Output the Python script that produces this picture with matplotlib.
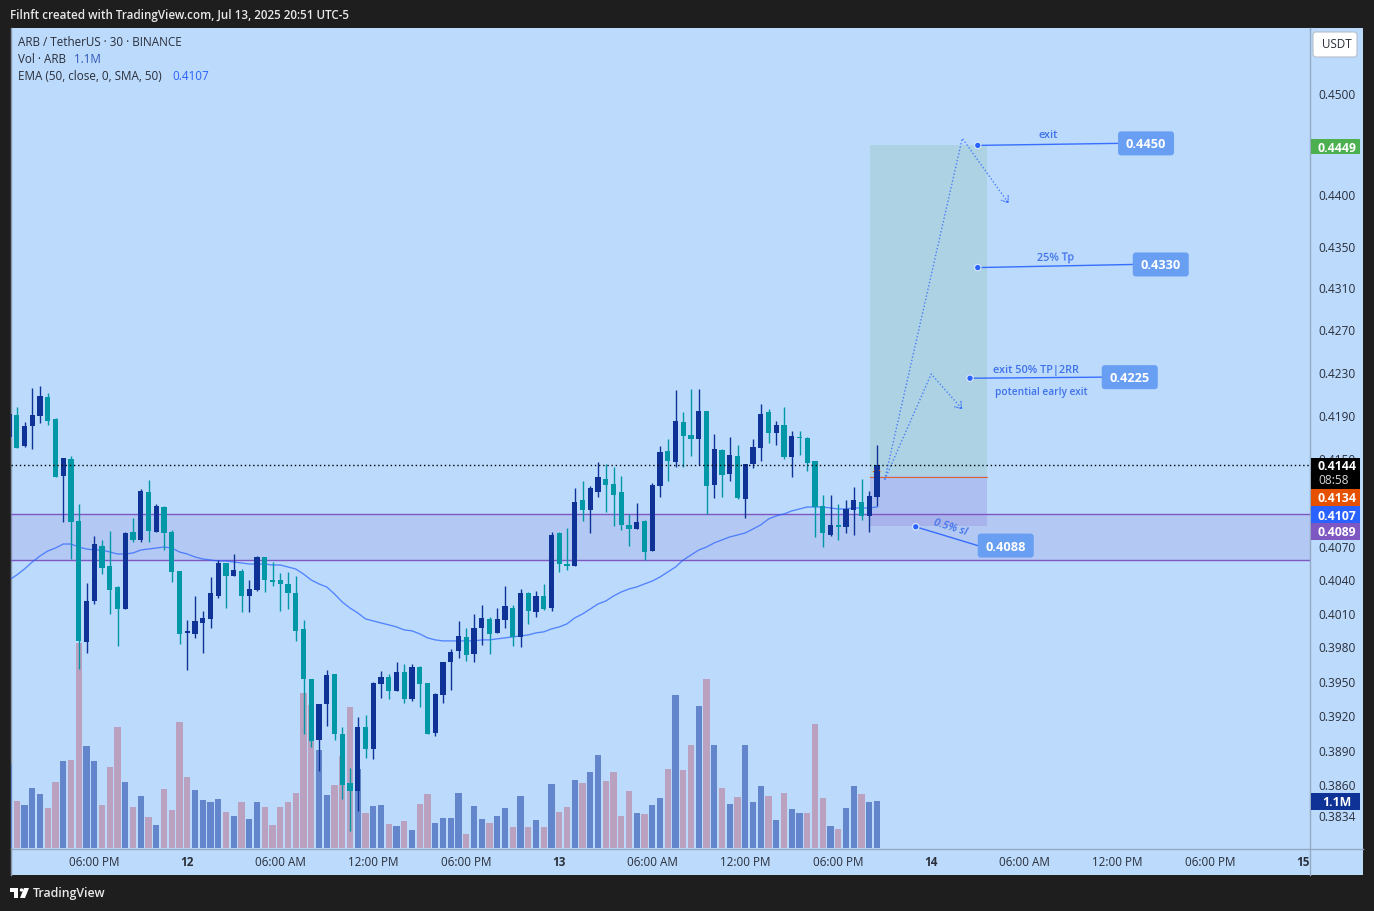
import matplotlib
matplotlib.use("Agg")
import matplotlib.pyplot as plt
from matplotlib.patches import Rectangle, FancyBboxPatch, Circle, Polygon
from matplotlib.ticker import FixedLocator, FixedFormatter, NullLocator

plt.rcParams["font.family"] = "Open Sans"

opens = [.4170,.4191,.4162,.4180,.4190,.4207,.4187,.4134,.4150,.4093,.3985,.4021,.4071,.4053,.4034,.4014,.4083,.4076,.4120,.4083,
         .4106,.4083,.4048,.3993,.3992,.4002,.4005,.4026,.4055,.4044,.4048,.4026,.4031,.4061,.4040,.4040,.4036,.4028,.3996,.3952,
         .3899,.3930,.3957,.3904,.3862,.3855,.3910,.3891,.3948,.3954,.3942,.3958,.3935,.3963,.3949,.3905,.3938,.3967,.3977,.3989,
         .3974,.3997,.4005,.3993,.4004,.4015,.3989,.4028,.4011,.4026,.4015,.4082,.4054,.4053,.4112,.4103,.4120,.4132,.4127,.4120,
         .4090,.4086,.4093,.4066,.4125,.4157,.4147,.4184,.4172,.4168,.4194,.4126,.4158,.4136,.4153,.4113,.4145,.4160,.4193,.4174,
         .4181,.4152,.4170,.4169,.4148,.4107,.4081,.4090,.4088,.4103,.4111,.4098,.4115]
highs = [.4197,.4198,.4184,.4216,.4218,.4211,.4188,.4151,.4153,.4109,.4037,.4080,.4076,.4084,.4035,.4083,.4096,.4122,.4131,.4109,
         .4107,.4085,.4048,.4004,.4026,.4012,.4043,.4058,.4055,.4063,.4050,.4040,.4062,.4061,.4056,.4046,.4047,.4044,.4004,.3952,
         .3930,.3960,.3957,.3910,.3875,.3919,.3921,.3950,.3959,.3957,.3967,.3965,.3965,.3964,.3949,.3940,.3967,.3979,.4003,.3997,
         .4010,.4018,.4007,.4015,.4035,.4018,.4032,.4029,.4030,.4036,.4083,.4083,.4087,.4123,.4130,.4125,.4147,.4145,.4143,.4134,
         .4100,.4110,.4094,.4128,.4162,.4168,.4214,.4193,.4215,.4215,.4194,.4173,.4159,.4170,.4163,.4145,.4168,.4201,.4196,.4185,
         .4198,.4176,.4176,.4170,.4148,.4117,.4117,.4109,.4112,.4124,.4132,.4121,.4163]
lows = [.4161,.4160,.4161,.4159,.4183,.4181,.4133,.4092,.4059,.3961,.3975,.4019,.4045,.4010,.3981,.4014,.4074,.4074,.4074,.4083,
        .4067,.4038,.3983,.3960,.3988,.3975,.3997,.4024,.4015,.4044,.4011,.4011,.4030,.4029,.4035,.4012,.4014,.3986,.3904,.3893,
        .3872,.3911,.3899,.3848,.3821,.3838,.3884,.3883,.3936,.3935,.3942,.3931,.3933,.3928,.3904,.3903,.3931,.3943,.3971,.3968,
        .3967,.3982,.3974,.3993,.3997,.3981,.3980,.4001,.4007,.4013,.4012,.4047,.4049,.4053,.4093,.4082,.4115,.4101,.4089,.4085,
        .4071,.4086,.4058,.4066,.4115,.4130,.4143,.4143,.4153,.4144,.4100,.4114,.4115,.4130,.4113,.4096,.4142,.4148,.4165,.4163,
        .4150,.4133,.4154,.4139,.4079,.4070,.4080,.4076,.4082,.4081,.4094,.4083,.4107]
closes = [.4192,.4160,.4180,.4191,.4208,.4185,.4133,.4151,.4092,.3986,.4021,.4072,.4051,.4031,.4014,.4082,.4076,.4121,.4084,.4107,
          .4082,.4047,.3992,.3995,.4003,.4006,.4028,.4055,.4044,.4049,.4026,.4032,.4061,.4040,.4038,.4036,.4028,.3995,.3952,.3898,
          .3930,.3956,.3904,.3860,.3855,.3910,.3891,.3949,.3954,.3942,.3958,.3935,.3963,.3948,.3904,.3939,.3967,.3976,.3990,.3973,
          .3997,.4006,.3992,.4005,.4017,.3989,.4028,.4012,.4026,.4014,.4081,.4054,.4053,.4111,.4103,.4123,.4133,.4126,.4117,.4090,
          .4086,.4092,.4065,.4126,.4156,.4148,.4185,.4171,.4168,.4194,.4125,.4159,.4135,.4154,.4114,.4145,.4161,.4192,.4174,.4181,
          .4152,.4171,.4169,.4146,.4106,.4082,.4090,.4088,.4104,.4112,.4098,.4116,.4144]

# volume in millions, u/d is the colour the bar has in the picture
volumes = [1.97,1.10,1.01,1.40,1.26,.94,1.54,2.04,2.06,4.80,2.39,2.04,1.01,1.90,2.83,1.54,.96,1.22,.73,.54,
           1.38,.89,2.95,1.66,1.36,1.12,1.08,1.15,.84,.75,1.08,.68,1.08,.96,.54,.96,1.08,1.29,3.63,3.35,
           2.29,1.24,1.47,2.15,3.30,1.85,.82,.98,1.01,.56,.51,.63,.42,1.03,1.26,.59,.70,.70,1.29,.33,
           .98,.68,.59,.75,.94,.49,1.22,.49,.66,.49,1.50,.84,.96,1.59,1.52,1.78,2.18,1.57,1.78,.75,
           1.33,.82,.80,1.01,1.17,1.85,3.58,1.83,2.41,3.32,3.95,2.41,1.40,1.03,1.19,2.41,1.08,1.45,1.22,.66,
           1.29,.91,.82,.82,2.90,1.17,.51,.44,.94,1.45,1.26,1.08,1.10]
volume_dirs = list("uduuuddudd" "uudddududu" "dddduuuudu" "duuddddddd"
                   "uuddduduud" "ududduuuud" "uuduududud" "udduduuddd"
                   "duduududdu" "dududuuudu" "duuddduduu" "duu")

ema50 = [.40400,.40445,.40499,.40562,.40616,.40661,.40688,.40724,.40724,.40697,.40679,.40670,.40670,.40652,.40634,.40634,
         .40643,.40670,.40679,.40688,.40697,.40688,.40652,.40634,.40607,.40589,.40580,.40571,.40571,.40562,.40553,.40544,
         .40544,.40544,.40535,.40535,.40517,.40499,.40454,.40400,.40365,.40338,.40275,.40203,.40150,.40106,.40053,.40035,
         .40017,.40000,.39982,.39955,.39947,.39920,.39885,.39867,.39858,.39858,.39858,.39858,.39858,.39867,.39867,.39876,
         .39885,.39893,.39902,.39911,.39929,.39938,.39964,.39982,.40009,.40062,.40097,.40141,.40186,.40212,.40257,.40293,
         .40320,.40338,.40365,.40391,.40427,.40472,.40517,.40580,.40625,.40670,.40697,.40734,.40761,.40788,.40806,.40824,
         .40860,.40897,.40951,.40979,.40997,.41024,.41042,.41060,.41060,.41060,.41051,.41042,.41042,.41051,.41051,.41051,.41060]

price_ticks = [.4500,.4400,.4350,.4310,.4270,.4230,.4190,.4150,.4070,.4040,.4010,.3980,.3950,.3920,.3890,.3860,.3834]
time_ticks = [11,23,35,47,59,71,83,95,107,119,131,143,155,167]
time_labels = ["06:00 PM","12","06:00 AM","12:00 PM","06:00 PM","13","06:00 AM","12:00 PM","06:00 PM","14",
               "06:00 AM","12:00 PM","06:00 PM","15"]

zone_top, zone_bottom = .4100, .4058
entry, target, stop = .4134, .4449, .4089
last_price = .4144

# drawn trade plan, candle index and price
plan_long_i = [113, 123, 129]
plan_long_p = [.4131, .4456, .4392]
plan_early_i = [113, 119, 123]
plan_early_p = [.4131, .4229, .4196]

callout_values = ["0.4450", "0.4330", "0.4225", "0.4088"]
callout_dot_i = [125, 125, 124, 117]
callout_dot_p = [.4449, .4330, .4225, .4088]
callout_end_i = [143.1, 145, 141, 125]
callout_end_p = [.4451, .4333, .4226, .4071]

W, H = 1374, 911
BG = "#bbdafc"
DARK = "#1e1e1e"
NAVY = "#0e3296"
TEAL = "#0098a6"
BLUE = "#2962ff"
TXT = "#2a2e39"
LEFT, RIGHT, TOP, BOTTOM = 11, 1310, 28, 848


def pixel_axes(zorder):
    a = fig.add_axes([0, 0, 1, 1], zorder=zorder)
    a.set_xlim(0, W)
    a.set_ylim(H, 0)
    a.axis("off")
    a.patch.set_alpha(0)
    return a


def to_px(i, price):
    x, y = ax.transData.transform((i, price))
    return x, H - y


def price_tag(y0, y1, text, color, text_color="white"):
    top.add_patch(Rectangle((1311, y0), 49, y1 - y0, color=color, lw=0))
    top.text(1337, (y0 + y1) / 2, text, color=text_color, fontsize=8.8, fontweight="bold",
             ha="center", va="center_baseline")


fig = plt.figure(figsize=(W / 100, H / 100), dpi=100, facecolor=DARK)

back = pixel_axes(-2)
back.add_patch(Rectangle((11, 28), 1352, 847, color=BG, lw=0))
back.plot([1310, 1310], [28, 875], color="#94a9c2", lw=1)
back.plot([11, 1363], [848.5, 848.5], color="#94a9c2", lw=1)
back.plot([10.5, 10.5], [28, 875], color="#8795a8", lw=1)

rect = [LEFT / W, 1 - BOTTOM / H, (RIGHT - LEFT) / W, (BOTTOM - TOP) / H]

ax_vol = fig.add_axes(rect, zorder=-1)
ax_vol.patch.set_alpha(0)
ax_vol.axis("off")
ax_vol.set_xlim(.258, 167.87)
ax_vol.set_ylim(0, 19.19)
idx = list(range(len(closes)))
ax_vol.bar(idx, volumes, width=.82, lw=0,
           color=["#6385cc" if d == "u" else "#b9a1bf" for d in volume_dirs])

ax = fig.add_axes(rect, zorder=1)
ax.patch.set_alpha(0)
for s in ax.spines.values():
    s.set_visible(False)
ax.set_yscale("log")
ax.set_xlim(.258, 167.87)
ax.set_ylim(.38068, .45664)

# support zone and the dotted last price line
ax.axhspan(zone_bottom, zone_top, color="#7e57c2", alpha=.13, lw=0, zorder=1)
ax.axhline(zone_top, color="#7e57c2", lw=1, zorder=1.5)
ax.axhline(zone_bottom, color="#7e57c2", lw=1, zorder=1.5)

# long position box
ax.fill_between([111.1, 126.2], entry, target, color="#9ac8be", alpha=.4, lw=0, zorder=1.2)
ax.fill_between([111.1, 126.2], stop, entry, color="#9a94de", alpha=.4, lw=0, zorder=1.2)
ax.plot([111.1, 126.2], [entry - .00005, entry - .00005], color="#e65100", lw=.8, alpha=.8, zorder=2)

ax.plot(idx, ema50, color=BLUE, lw=.95, alpha=.72, zorder=2.5)

colors = [NAVY if c >= o else TEAL for o, c in zip(opens, closes)]
ax.vlines(idx, lows, highs, colors=colors, lw=1, zorder=3)
ax.bar(idx, [abs(c - o) for o, c in zip(opens, closes)], bottom=[min(o, c) for o, c in zip(opens, closes)],
       width=.66, color=colors, lw=0, zorder=3.2)

ax.axhline(last_price, color="black", lw=1, ls=(0, (1, 2)), zorder=4)

for path_i, path_p in [(plan_long_i, plan_long_p), (plan_early_i, plan_early_p)]:
    ax.plot(path_i, path_p, color=BLUE, lw=1, ls=(0, (1, 1.5)), alpha=.75, zorder=5)
    # short stub so only the head gets drawn
    head_from = (path_i[2] - .04 * (path_i[2] - path_i[1]), path_p[2] - .04 * (path_p[2] - path_p[1]))
    ax.annotate("", xy=(path_i[2], path_p[2]), xytext=head_from,
                arrowprops=dict(arrowstyle="->,head_length=.42,head_width=.3", color=BLUE, lw=.9,
                                ls=(0, (1, 1.2)), alpha=.75, shrinkA=0, shrinkB=0), zorder=5)

ax.yaxis.tick_right()
ax.yaxis.set_major_locator(FixedLocator(price_ticks))
ax.yaxis.set_major_formatter(FixedFormatter([f"{p:.4f}" for p in price_ticks]))
ax.yaxis.set_minor_locator(NullLocator())
ax.xaxis.set_major_locator(FixedLocator(time_ticks))
ax.xaxis.set_major_formatter(FixedFormatter(time_labels))
ax.tick_params(axis="y", length=0, pad=5.8, labelsize=8.6, labelcolor=TXT)
ax.tick_params(axis="x", length=0, pad=5.5, labelsize=8.4, labelcolor=TXT)
for lab in ax.get_xticklabels():
    if len(lab.get_text()) == 2:
        lab.set_fontweight("bold")

top = pixel_axes(5)

# callouts to the trade levels
for val, di, dp, ei, ep in zip(callout_values, callout_dot_i, callout_dot_p, callout_end_i, callout_end_p):
    dx, dy = to_px(di, dp)
    ex, ey = to_px(ei, ep)
    top.plot([dx, ex], [dy, ey], color=BLUE, lw=1, alpha=.9)
    top.add_patch(Circle((dx, dy), 3.2, fc=BLUE, ec="#dceaff", lw=.8, zorder=4))
    top.add_patch(FancyBboxPatch((ex, ey - 12), 56, 24, boxstyle="round,pad=0,rounding_size=3",
                                 mutation_aspect=1, fc="#699ff2", ec="none", lw=0, zorder=4))
    top.text(ex + 28, ey, val, color="white", fontsize=9.2, fontweight="bold",
             ha="center", va="center_baseline", zorder=5)

note = dict(color="#3f72ea", fontweight="semibold", ha="center", va="center")
top.text(1048, 135.5, "exit", fontsize=7.8, **note)
top.text(1056, 258, "25% Tp", rotation=1, fontsize=7.8, **note)
top.text(1036, 370, "exit 50% TP|2RR", fontsize=7.8, **note)
top.text(1041, 392, "potential early exit", fontsize=7.3, **note)
top.text(950, 528, "0.5% sl", rotation=-17, style="italic", fontsize=7.8, **note)

# little orange mark on the last candle
top.plot([873, 875], [472, 470], color="#e65100", lw=.8, ls=(0, (1, 1)))
top.plot([879, 881], [470, 472], color="#e65100", lw=.8, ls=(0, (1, 1)))

# price scale tags
top.add_patch(FancyBboxPatch((1313, 32), 44, 25, boxstyle="round,pad=0,rounding_size=3",
                             fc="white", ec="#b5bfca", lw=.8))
top.text(1337, 45, "USDT", color=TXT, fontsize=8.4, ha="center", va="center")
price_tag(139, 154, "0.4449", "#4caf50")
top.add_patch(Rectangle((1311, 458), 49, 31, color="black", lw=0))
top.text(1337, 466.5, "0.4144", color="white", fontsize=8.8, fontweight="bold", ha="center", va="center")
top.text(1334, 480.5, "08:58", color="#d8d8d8", fontsize=8.6, ha="center", va="center")
price_tag(489, 506, "0.4134", "#e65100")
price_tag(506, 523, "0.4107", "#2962ff")
price_tag(523, 540, "0.4089", "#7e57c2")
price_tag(793, 810, "1.1M", "#0e3296")

# legend
top.text(18, 42.5, "ARB / TetherUS · 30 · BINANCE", color=TXT, fontsize=8.4, va="center")
top.text(18, 59.5, "Vol · ARB", color=TXT, fontsize=8.4, va="center")
top.text(74, 59.5, "1.1M", color="#2f58b8", fontsize=8.4, va="center")
top.text(18, 76.5, "EMA (50, close, 0, SMA, 50)", color=TXT, fontsize=8.4, va="center")
top.text(172, 76.5, "0.4107", color="#2962ff", fontsize=8.4, va="center")

# header and footer
top.text(10, 15, "Filnft created with TradingView.com, Jul 13, 2025 20:51 UTC-5", color="#e8e8e8",
         fontsize=8.4, fontweight="semibold", va="center")
top.add_patch(Polygon([(10, 888), (18, 888), (18, 898), (14, 898), (14, 892), (10, 892)], color="white", lw=0))
top.add_patch(Circle((21.5, 890), 1.7, color="white", lw=0))
top.add_patch(Polygon([(24, 888), (29, 888), (25, 898), (20, 898)], color="white", lw=0))
top.text(33, 894, "TradingView", color="#e8e8e8", fontsize=8.9, fontweight="semibold", va="center")

fig.savefig("out.png", dpi=100, facecolor=DARK)
